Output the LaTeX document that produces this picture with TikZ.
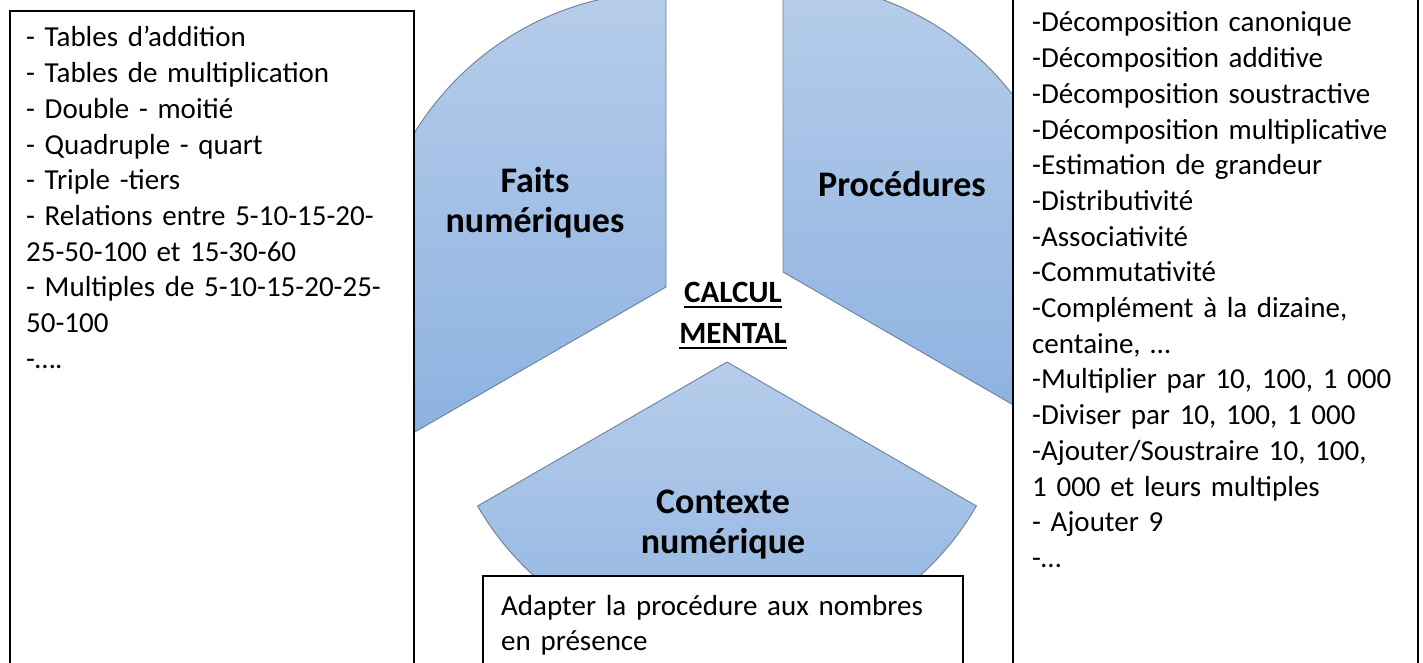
\documentclass[tikz,border=0pt]{standalone}
\usepackage{fontspec}
\setmainfont[WordSpace=0.85]{Carlito}
\definecolor{shtop}{RGB}{182,205,234}
\definecolor{shbot}{RGB}{141,178,225}
\definecolor{shline}{RGB}{110,128,152}
\newcommand{\ulx}[1]{\setbox0=\hbox{#1}\rlap{\copy0}\rule[-5.5pt]{\wd0}{2pt}}
\tikzset{
  sector/.style={top color=shtop, bottom color=shbot, draw=shline, line width=0.9pt},
  listbox/.style={draw=black, fill=white, line width=1.8pt},
  listtext/.style={anchor=base west, inner sep=0pt, text width=#1, align=left,
    font=\fontsize{29}{35.7}\selectfont\frenchspacing},
  title/.style={anchor=base, inner sep=0pt, align=center,
    font=\fontsize{36}{40}\selectfont\bfseries},
}
\begin{document}
\begin{tikzpicture}[x=1pt,y=1pt]
\useasboundingbox (0,0) rectangle (1423,662);
\clip (0,0) rectangle (1423,662);
\fill[white] (0,0) rectangle (1423,662);
% sectors
\coordinate (fv) at (666,375);
\coordinate (pv) at (783,390);
\coordinate (cv) at (727,300);
\path[sector] (fv) -- ++(90:295) arc[start angle=90, end angle=210, radius=295] -- cycle;
\path[sector] (pv) -- ++(-30:290) arc[start angle=-30, end angle=90, radius=290] -- cycle;
\path[sector] (cv) -- ++(210:288) arc[start angle=210, end angle=330, radius=288] -- cycle;
% boxes
\draw[listbox] (10,651) rectangle (414,-10);
\draw[listbox] (1013,672) rectangle (1418,-10);
\draw[listbox] (483,86) rectangle (963,-10);
% texts
\node[listtext=385pt] (lt) at (26,615) {%
- Tables d’addition\\
- Tables de multiplication\\
- Double - moitié\\
- Quadruple - quart\\
- Triple -tiers\\
- Relations entre 5-10-15-20-\\
25-50-100 et 15-30-60\\
- Multiples de 5-10-15-20-25-\\
50-100\\
-….};
\node[listtext=385pt] (rt) at (1032,630) {%
-Décomposition canonique\\
-Décomposition additive\\
-Décomposition soustractive\\
-Décomposition multiplicative\\
-Estimation de grandeur\\
-Distributivité\\
-Associativité\\
-Commutativité\\
-Complément à la dizaine,\\
centaine, …\\
-Multiplier par 10, 100, 1 000\\
-Diviser par 10, 100, 1 000\\
-Ajouter/Soustraire 10, 100,\\
1 000 et leurs multiples\\
- Ajouter 9\\
-…};
\node[listtext=450pt] (bt) at (501,47) {%
Adapter la procédure aux nombres\\
en présence};
\node[title] (faits) at (535,429) {Faits\\numériques};
\node[title] (proc) at (902,465) {Procédures};
\node[title] (ctx) at (723,109) {Contexte\\numérique};
\node[anchor=base, inner sep=0pt, align=center,
  font=\fontsize{31}{40}\selectfont\bfseries] (cm) at (733,319)
  {\ulx{CALCUL}\\\ulx{MENTAL}};
\end{tikzpicture}
\end{document}
